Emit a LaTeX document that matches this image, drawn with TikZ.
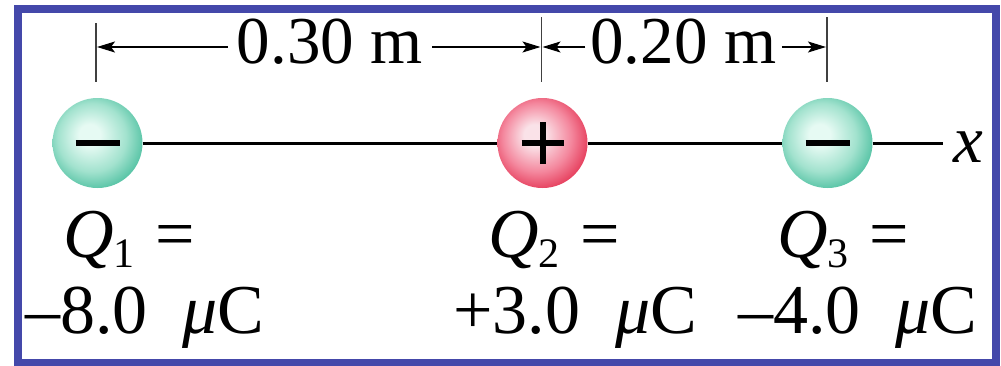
\documentclass[tikz,border=0pt]{standalone}
\usepackage{fontspec}
\setmainfont{Liberation Serif}
\usepackage{xcolor}
\usepackage{tikz}
\usetikzlibrary{positioning, arrows.meta, calc}
\definecolor{frameblue}{HTML}{4448AA}
\definecolor{tealedge}{HTML}{58C4A6}
\definecolor{tealmid}{HTML}{A2E2CE}
\definecolor{tealhi}{HTML}{E6FAF3}
\definecolor{rededge}{HTML}{E6405E}
\definecolor{redmid}{HTML}{F4889E}
\definecolor{redhi}{HTML}{FAE2E8}
\definecolor{guidegray}{HTML}{404040}

\pgfdeclareradialshading{tealball}{\pgfpoint{-5bp}{5bp}}{color(0bp)=(tealhi); color(6bp)=(tealhi); color(19bp)=(tealmid); color(28bp)=(tealedge); color(50bp)=(tealedge)}
\pgfdeclareradialshading{redball}{\pgfpoint{-5bp}{5bp}}{color(0bp)=(redhi); color(6bp)=(redhi); color(19bp)=(redmid); color(28bp)=(rededge); color(50bp)=(rededge)}

\newcommand{\qname}[1]{{\itshape Q}\raisebox{-10pt}{\fontsize{42}{42}\selectfont #1}\hspace{.05em}}
\newcommand{\micro}{\hspace{.5em}{\itshape μ}C}

\begin{document}
\begin{tikzpicture}[x=1pt, y=-1pt,
    txt/.style={font=\fontsize{67}{80}\selectfont, inner sep=0pt},
    lbl/.style={txt, font=\fontsize{70}{84}\selectfont, anchor=base west},
    sphere/.style={circle, minimum size=90pt, inner sep=0pt, shade},
    negcharge/.style={sphere, shading=tealball,
      path picture={\draw[line width=6pt] ([xshift=-22pt]path picture bounding box.center) -- ([xshift=22pt]path picture bounding box.center);}},
    poscharge/.style={sphere, shading=redball,
      path picture={\draw[line width=6pt] ([xshift=-21pt]path picture bounding box.center) -- ([xshift=21pt]path picture bounding box.center)
        ([yshift=-21pt]path picture bounding box.center) -- ([yshift=21pt]path picture bounding box.center);}},
    dimarrow/.style={line width=1.6pt, -{Stealth[length=18pt, width=11pt, inset=4pt]}},
    guide/.style={guidegray, line width=1.6pt}]
  \useasboundingbox (0,0) rectangle (1001,365);
  \draw[frameblue, line width=8pt] (18,9) rectangle (996,363);

  \node[negcharge] (q1) at (97.5,143) {};
  \node[poscharge] (q2) at (542.5,143) {};
  \node[negcharge] (q3) at (827.5,143) {};
  \coordinate (xend) at (943,143);
  \draw[line width=3pt] (q1) -- (q2) (q2) -- (q3) (q3) -- (xend);
  \node[txt, anchor=base west] (xlab) at (953,162) {\itshape x};

  \draw[guide] (96,23) -- (96,82);
  \draw[guide] (541.5,17) -- (541.5,82);
  \draw[guide] (827,17) -- (827,82);
  \coordinate (t1) at (97,47);
  \coordinate (t2a) at (540.5,47);
  \coordinate (t2b) at (542.5,47);
  \coordinate (t3) at (826,47);

  \node[txt, anchor=base, inner xsep=9pt] (d1) at (330,63) {0.30 m};
  \node[txt, anchor=base, inner xsep=5pt] (d2) at (683.5,63) {0.20 m};
  \draw[dimarrow] (d1.west |- t1) -- (t1);
  \draw[dimarrow] (d1.east |- t1) -- (t2a);
  \draw[dimarrow] (d2.west |- t1) -- (t2b);
  \draw[dimarrow] (d2.east |- t1) -- (t3);

  \node[lbl] (l1a) at (63,257) {\qname{1} =};
  \node[lbl] (l1b) at (25,333) {–8.0\micro};
  \node[lbl] (l2a) at (488,257) {\qname{2} =};
  \node[lbl] (l2b) at (453,333) {+3.0\micro};
  \node[lbl] (l3a) at (777,257) {\qname{3} =};
  \node[lbl] (l3b) at (738,333) {–4.0\micro};
\end{tikzpicture}
\end{document}
